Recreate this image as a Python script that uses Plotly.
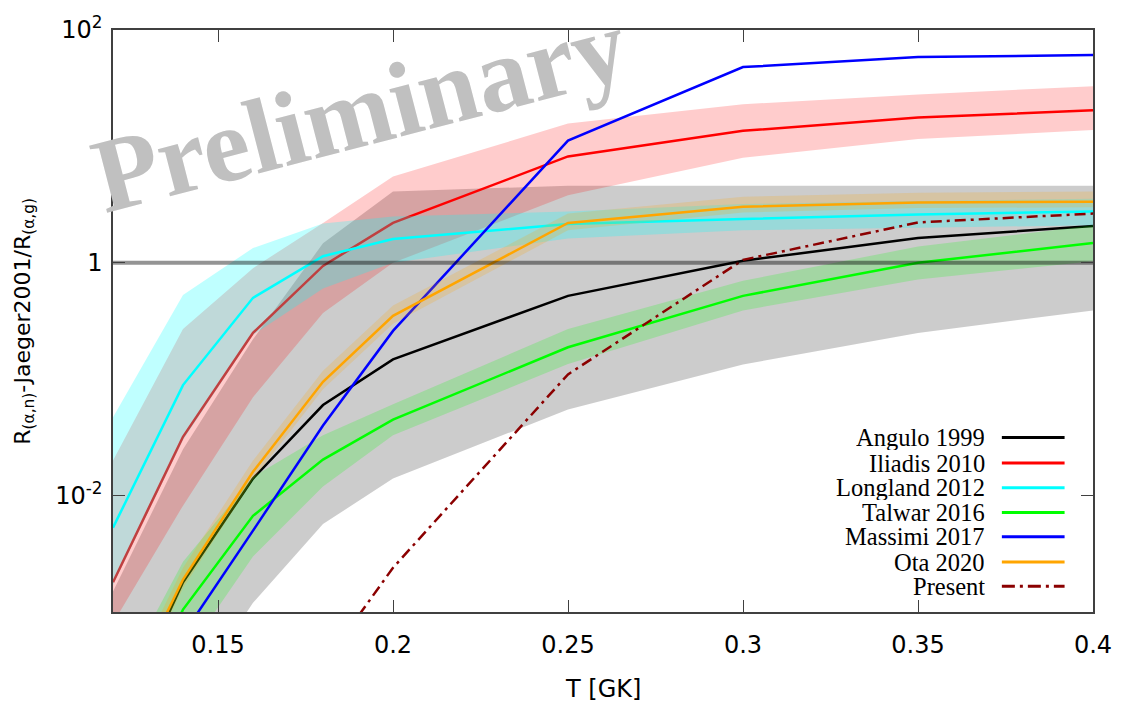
import plotly.graph_objects as go

# Temperature grid [GK]
T = [0.12, 0.14, 0.16, 0.18, 0.20, 0.25, 0.30, 0.35, 0.40]

# Rate ratio R(a,n)-Jaeger2001 / R(a,g) for each evaluation
angulo = [9.0e-5, 0.0018, 0.014, 0.060, 0.148, 0.52, 1.04, 1.63, 2.07]
angulo_hi = [0.0015, 0.025, 0.22, 1.47, 4.1, 4.6, 4.6, 4.6, 4.6]
angulo_lo = [1.0e-5, 1.5e-4, 0.0012, 0.0057, 0.014, 0.055, 0.134, 0.25, 0.39]

iliadis = [0.0018, 0.032, 0.25, 0.94, 2.2, 8.2, 13.6, 17.7, 20.4]
iliadis_hi = [0.02, 0.27, 0.9, 2.2, 5.5, 15.7, 23.0, 27.9, 32.9]
iliadis_lo = [0.0008, 0.0082, 0.07, 0.37, 1.0, 3.8, 8.0, 11.6, 13.8]

longland = [0.0053, 0.089, 0.50, 1.14, 1.6, 2.15, 2.38, 2.6, 2.76]
longland_hi = [0.047, 0.53, 1.34, 2.18, 2.5, 2.76, 3.2, 3.4, 3.55]
longland_lo = [0.0017, 0.03, 0.24, 0.6, 1.0, 1.62, 1.9, 2.0, 2.1]

talwar = [5.0e-5, 0.00105, 0.0067, 0.0204, 0.045, 0.188, 0.52, 1.0, 1.48]
talwar_hi = [2.0e-4, 0.0027, 0.0145, 0.033, 0.061, 0.27, 0.70, 1.38, 2.1]
talwar_lo = [1.5e-5, 0.0004, 0.003, 0.012, 0.033, 0.135, 0.39, 0.72, 1.03]

massimi = [1.0e-5, 0.00064, 0.0050, 0.040, 0.26, 11.2, 48.0, 58.5, 61.0]

ota = [1.1e-4, 0.0019, 0.016, 0.095, 0.35, 2.2, 3.03, 3.3, 3.34]
ota_hi = [1.4e-4, 0.0024, 0.020, 0.118, 0.43, 2.65, 3.7, 4.0, 4.1]
ota_lo = [0.9e-4, 0.0016, 0.0138, 0.082, 0.30, 1.9, 2.7, 2.95, 3.0]

present = [1.6e-7, 3.0e-6, 4.0e-5, 0.00035, 0.0024, 0.11, 1.06, 2.22, 2.65]

REF_LEVEL = 1.0

series = [
    ("Angulo 1999", angulo, angulo_hi, angulo_lo, "#000000", "rgba(0,0,0,0.2)", "solid"),
    ("Iliadis 2010", iliadis, iliadis_hi, iliadis_lo, "#ff0000", "rgba(255,0,0,0.2)", "solid"),
    ("Longland 2012", longland, longland_hi, longland_lo, "#00ffff", "rgba(0,255,255,0.25)", "solid"),
    ("Talwar 2016", talwar, talwar_hi, talwar_lo, "#00ff00", "rgba(0,255,0,0.2)", "solid"),
    ("Massimi 2017", massimi, None, None, "#0000ff", None, "solid"),
    ("Ota 2020", ota, ota_hi, ota_lo, "#ffa500", "rgba(255,165,0,0.2)", "solid"),
    ("Present", present, None, None, "#8b0000", None, "11px,5px,3px,5px"),
]

fig = go.Figure()

for name, y, hi, lo, color, fill, dash in series:
    if hi is not None:
        fig.add_trace(go.Scatter(
            x=T + T[::-1], y=hi + lo[::-1], mode="lines", fill="toself",
            fillcolor=fill, line=dict(width=0), hoverinfo="skip",
            showlegend=False,
        ))
    fig.add_trace(go.Scatter(
        x=T, y=y, mode="lines", name=name,
        line=dict(color=color, width=2.5, dash=dash),
        showlegend=False,
    ))

# unity reference line
fig.add_trace(go.Scatter(
    x=[T[0], T[-1]], y=[REF_LEVEL, REF_LEVEL], mode="lines",
    line=dict(color="rgba(0,0,0,0.42)", width=4), showlegend=False,
    hoverinfo="skip",
))

axis_common = dict(
    showline=True, mirror="ticks", linecolor="#404040", linewidth=1.5,
    ticks="inside", ticklen=12, tickwidth=1.2, tickcolor="#404040",
    showgrid=False, zeroline=False,
    tickfont=dict(family="DejaVu Sans", size=24, color="#000000"),
)

fig.update_xaxes(
    range=[0.12, 0.4],
    tickvals=[0.15, 0.2, 0.25, 0.3, 0.35, 0.4],
    ticktext=["0.15", "0.2", "0.25", "0.3", "0.35", "0.4"],
    ticklabelstandoff=10,
    **axis_common,
)
fig.update_yaxes(
    type="log", range=[-3, 2],
    tickvals=[0.01, 1, 100],
    ticktext=["10<sup>-2</sup>", "1", "10<sup>2</sup>"],
    ticklabelstandoff=4,
    **axis_common,
)

annotations = [
    dict(text="Preliminary", x=0.252, y=0.862, xref="paper", yref="paper",
         xanchor="center", yanchor="middle", showarrow=False, textangle=-14.5,
         font=dict(family="Liberation Serif", size=106, color="#c0c0c0",
                   weight="bold")),
    dict(text="T [GK]", x=0.5, y=-0.133, xref="paper", yref="paper",
         xanchor="center", yanchor="middle", showarrow=False,
         font=dict(family="DejaVu Sans", size=24, color="#000000")),
    dict(text="R<sub>(α,n)</sub>-Jaeger2001/R<sub>(α,g)</sub>",
         x=-0.091, y=0.5, xref="paper", yref="paper",
         xanchor="center", yanchor="middle", showarrow=False, textangle=-90,
         font=dict(family="DejaVu Sans", size=22, color="#000000")),
]

# Legend: label on the left, line sample on the right
legend_rows = [0.2998, 0.256, 0.2135, 0.1709, 0.1295, 0.0857, 0.0443]
shapes = []
for (name, _, _, _, color, _, dash), ry in zip(series, legend_rows):
    annotations.append(dict(
        text=name, x=0.892, y=ry, xref="paper", yref="paper",
        xanchor="right", yanchor="middle", showarrow=False, height=25,
        font=dict(family="Liberation Serif", size=24.5, color="#000000"),
    ))
    shapes.append(dict(
        type="line", xref="paper", yref="paper", x0=0.907, x1=0.971,
        y0=ry, y1=ry, line=dict(color=color, width=3,
                                dash="13px,5px,3px,5px" if dash != "solid" else "solid"),
    ))

fig.update_layout(
    width=1124, height=706,
    margin=dict(l=113, r=30, t=25, b=94),
    paper_bgcolor="white", plot_bgcolor="white",
    annotations=annotations, shapes=shapes,
    showlegend=False,
)

fig.write_html("out.html")
